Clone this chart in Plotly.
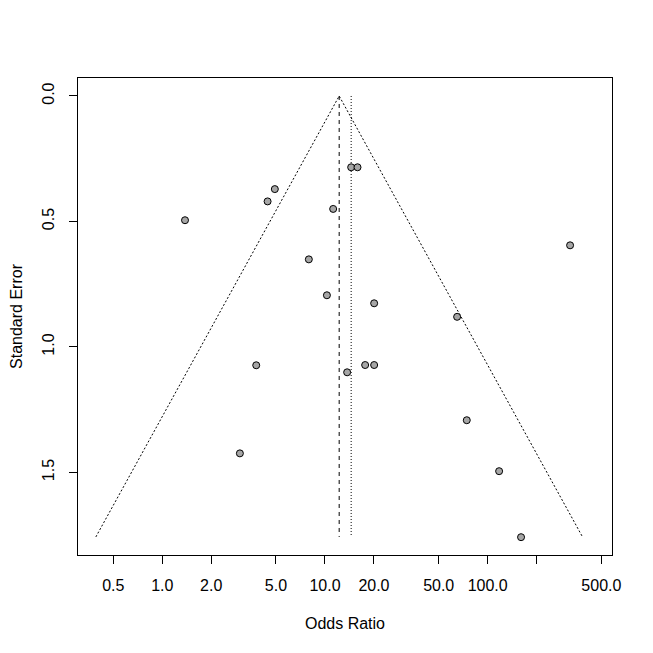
import numpy as np
import plotly.graph_objects as go

# Study odds ratios and standard errors
odds_ratio = [1.38, 4.92, 4.44, 14.49, 15.85, 11.23, 321.0, 7.96, 10.28, 20.06,
              64.9, 3.78, 17.66, 20.06, 13.69, 74.4, 3.00, 117.6, 160.4]
std_error = [0.495, 0.371, 0.420, 0.284, 0.284, 0.450, 0.595, 0.651, 0.794, 0.826,
             0.880, 1.073, 1.072, 1.072, 1.101, 1.292, 1.424, 1.495, 1.758]

pooled_or = 12.23       # centre of funnel (dashed line)
reference_or = 14.49    # dotted reference line
se_max = 1.757

x_tickvals = [0.5, 1, 2, 5, 10, 20, 50, 100, 200, 500]
x_ticktext = ["0.5", "1.0", "2.0", "5.0", "10.0", "20.0", "50.0", "100.0", "", "500.0"]
y_tickvals = [0.0, 0.5, 1.0, 1.5]
y_ticktext = ["0.0", "0.5", "1.0", "1.5"]

se_line = [0.0, se_max]
lo = [float(np.exp(np.log(pooled_or) - 1.96 * s)) for s in se_line]
hi = [float(np.exp(np.log(pooled_or) + 1.96 * s)) for s in se_line]

fig = go.Figure()
# funnel
fig.add_trace(go.Scatter(x=[lo[1], lo[0], hi[1]], y=[se_line[1], se_line[0], se_line[1]],
                         mode="lines", line=dict(color="black", width=1, dash="2px,2px"),
                         hoverinfo="skip", showlegend=False))
# pooled estimate line
fig.add_trace(go.Scatter(x=[pooled_or, pooled_or], y=[0, se_max], mode="lines",
                         line=dict(color="black", width=1, dash="4px,4px"),
                         hoverinfo="skip", showlegend=False))
# reference line
fig.add_trace(go.Scatter(x=[reference_or, reference_or], y=[0, se_max], mode="lines",
                         line=dict(color="black", width=1, dash="1px,2px"),
                         hoverinfo="skip", showlegend=False))
# points
fig.add_trace(go.Scatter(x=odds_ratio, y=std_error, mode="markers",
                         marker=dict(size=7, color="#a6a6a6", line=dict(color="black", width=1)),
                         showlegend=False))

font = dict(family="Liberation Sans, Arial, sans-serif", size=16, color="black")
fig.update_layout(
    width=645, height=645,
    margin=dict(l=70, r=41, t=70, b=98),
    paper_bgcolor="white", plot_bgcolor="white",
    font=font,
    xaxis=dict(type="log", range=[np.log10(0.3035), np.log10(581)],
               tickvals=x_tickvals, ticktext=x_ticktext,
               ticks="outside", ticklen=8, tickcolor="black", tickwidth=1,
               ticklabelstandoff=8, automargin=False,
               showline=True, linecolor="black", linewidth=1, mirror=True,
               showgrid=False, zeroline=False,
               title=dict(text="Odds Ratio", standoff=24, font=font)),
    yaxis=dict(range=[1.829, -0.0717],
               tickvals=y_tickvals, ticktext=y_ticktext, tickangle=-90,
               ticks="outside", ticklen=8, tickcolor="black", tickwidth=1,
               ticklabelstandoff=9, automargin=False,
               showline=True, linecolor="black", linewidth=1, mirror=True,
               showgrid=False, zeroline=False,
               title=dict(text="Standard Error", standoff=23, font=font)),
)
fig.write_html("out.html")
